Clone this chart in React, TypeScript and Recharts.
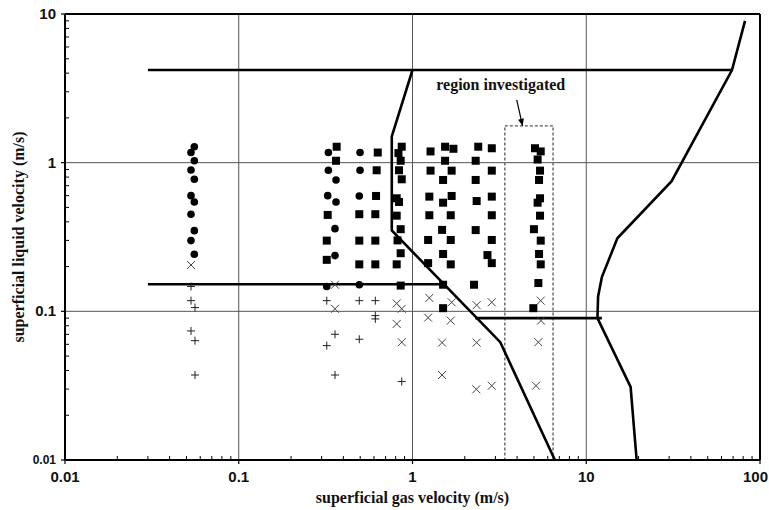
import { ScatterChart, Scatter, XAxis, YAxis, ReferenceLine, ReferenceArea } from 'recharts'

// axis decades and minor log steps
const xDecades = [0.01, 0.1, 1, 10, 100]
const yDecades = [0.01, 0.1, 1, 10]
const minorSteps = [2, 3, 4, 5, 6, 7, 8, 9]
const xGrid = [0.1, 1, 10]
const yGrid = [0.1, 1]

const xTitle = 'superficial gas velocity (m/s)'
const yTitle = 'superficial liquid velocity (m/s)'
const regionLabel = 'region investigated'

type Pt = { x: number; y: number; head?: boolean }

// filled circles
const circles: Pt[] = [
  { x: 0.0555, y: 1.28 }, { x: 0.0531, y: 1.17 }, { x: 0.0555, y: 1.03 }, { x: 0.0531, y: 0.893 },
  { x: 0.0555, y: 0.773 }, { x: 0.0531, y: 0.6 }, { x: 0.0555, y: 0.544 }, { x: 0.0531, y: 0.45 },
  { x: 0.0555, y: 0.349 }, { x: 0.0531, y: 0.299 }, { x: 0.0555, y: 0.242 },
  { x: 0.328, y: 1.17 }, { x: 0.328, y: 0.889 }, { x: 0.363, y: 0.765 }, { x: 0.325, y: 0.6 },
  { x: 0.363, y: 0.544 }, { x: 0.358, y: 0.36 }, { x: 0.358, y: 0.237 }, { x: 0.321, y: 0.147 },
  { x: 0.499, y: 1.17 }, { x: 0.499, y: 0.889 }, { x: 0.494, y: 0.597 }, { x: 0.494, y: 0.151 },
]

// filled squares
const squares: Pt[] = [
  { x: 0.366, y: 1.28 }, { x: 0.363, y: 1.03 }, { x: 0.325, y: 0.445 }, { x: 0.321, y: 0.299 }, { x: 0.321, y: 0.222 },
  { x: 0.631, y: 1.17 }, { x: 0.622, y: 0.889 }, { x: 0.617, y: 0.597 }, { x: 0.494, y: 0.45 }, { x: 0.611, y: 0.45 },
  { x: 0.494, y: 0.299 }, { x: 0.611, y: 0.299 }, { x: 0.494, y: 0.207 }, { x: 0.611, y: 0.207 },
  { x: 0.867, y: 1.28 }, { x: 0.83, y: 1.16 }, { x: 0.855, y: 1.03 }, { x: 0.836, y: 0.889 }, { x: 0.867, y: 0.773 },
  { x: 0.811, y: 0.576 }, { x: 0.836, y: 0.544 }, { x: 0.811, y: 0.44 }, { x: 0.855, y: 0.357 }, { x: 0.82, y: 0.3 },
  { x: 0.855, y: 0.246 }, { x: 0.811, y: 0.207 }, { x: 0.855, y: 0.149 },
  { x: 1.27, y: 1.19 }, { x: 1.54, y: 1.28 }, { x: 1.72, y: 1.24 }, { x: 1.54, y: 1.03 }, { x: 1.27, y: 0.884 },
  { x: 1.68, y: 0.884 }, { x: 1.5, y: 0.765 }, { x: 1.25, y: 0.591 }, { x: 1.68, y: 0.597 }, { x: 1.5, y: 0.538 },
  { x: 1.25, y: 0.443 }, { x: 1.66, y: 0.443 }, { x: 1.48, y: 0.353 }, { x: 1.23, y: 0.302 }, { x: 1.66, y: 0.302 },
  { x: 1.5, y: 0.243 }, { x: 1.23, y: 0.211 }, { x: 1.66, y: 0.207 }, { x: 1.5, y: 0.151 }, { x: 1.5, y: 0.105 },
  { x: 2.39, y: 1.28 }, { x: 2.86, y: 1.25 }, { x: 2.31, y: 1.03 }, { x: 2.86, y: 0.884 }, { x: 2.31, y: 0.765 },
  { x: 2.86, y: 0.591 }, { x: 2.34, y: 0.552 }, { x: 2.86, y: 0.443 }, { x: 2.31, y: 0.352 }, { x: 2.86, y: 0.302 },
  { x: 2.7, y: 0.239 }, { x: 2.86, y: 0.211 }, { x: 2.26, y: 0.151 },
  { x: 5.07, y: 1.25 }, { x: 5.47, y: 1.19 }, { x: 5.25, y: 1.05 }, { x: 5.42, y: 0.884 }, { x: 5.35, y: 0.765 },
  { x: 5.42, y: 0.576 }, { x: 5.25, y: 0.538 }, { x: 5.42, y: 0.44 }, { x: 5.0, y: 0.357 }, { x: 5.47, y: 0.299 },
  { x: 5.35, y: 0.243 }, { x: 5.47, y: 0.207 }, { x: 5.3, y: 0.155 }, { x: 4.96, y: 0.105 },
]

// crosses (x)
const crosses: Pt[] = [
  { x: 0.0531, y: 0.205 }, { x: 0.358, y: 0.151 }, { x: 0.358, y: 0.104 },
  { x: 0.811, y: 0.113 }, { x: 0.867, y: 0.104 }, { x: 0.811, y: 0.0823 }, { x: 0.867, y: 0.062 },
  { x: 1.25, y: 0.123 }, { x: 1.68, y: 0.115 }, { x: 1.23, y: 0.0907 }, { x: 1.66, y: 0.0866 },
  { x: 1.48, y: 0.0616 }, { x: 1.48, y: 0.0373 },
  { x: 2.34, y: 0.11 }, { x: 2.86, y: 0.115 }, { x: 2.34, y: 0.0616 }, { x: 2.33, y: 0.0299 }, { x: 2.86, y: 0.0316 },
  { x: 5.47, y: 0.118 }, { x: 5.49, y: 0.0866 }, { x: 5.3, y: 0.062 }, { x: 5.14, y: 0.0316 },
]

// plus signs
const pluses: Pt[] = [
  { x: 0.0531, y: 0.147 }, { x: 0.0531, y: 0.118 }, { x: 0.056, y: 0.106 }, { x: 0.0531, y: 0.0738 },
  { x: 0.056, y: 0.0635 }, { x: 0.056, y: 0.0373 },
  { x: 0.321, y: 0.118 }, { x: 0.358, y: 0.0701 }, { x: 0.321, y: 0.0588 }, { x: 0.358, y: 0.0373 },
  { x: 0.494, y: 0.118 }, { x: 0.611, y: 0.118 }, { x: 0.611, y: 0.0936 }, { x: 0.611, y: 0.0889 }, { x: 0.494, y: 0.0649 },
  { x: 0.867, y: 0.0337 },
]

// flow regime boundaries
const topLine: Pt[] = [{ x: 0.03, y: 4.2 }, { x: 69, y: 4.2 }]
const midLine: Pt[] = [{ x: 0.03, y: 0.152 }, { x: 1.5, y: 0.152 }]
const lowLine: Pt[] = [{ x: 2.3, y: 0.09 }, { x: 12.3, y: 0.09 }]
const leftBoundary: Pt[] = [
  { x: 1.0, y: 4.2 }, { x: 0.76, y: 1.5 }, { x: 0.76, y: 0.35 }, { x: 3.2, y: 0.062 }, { x: 6.6, y: 0.01 },
]
const rightBoundary: Pt[] = [
  { x: 82, y: 9.0 }, { x: 69, y: 4.2 }, { x: 31, y: 0.75 }, { x: 15.1, y: 0.31 }, { x: 12.3, y: 0.17 },
  { x: 11.7, y: 0.126 }, { x: 11.6, y: 0.09 }, { x: 18, y: 0.031 }, { x: 19.5, y: 0.01 },
]

// dashed box, its label and arrow
const regionX = [3.4, 6.44]
const regionY = [0.01, 1.77]
const labelPos: Pt[] = [{ x: 3.22, y: 3.08 }]
const arrow: Pt[] = [{ x: 3.98, y: 2.64 }, { x: 4.3, y: 1.77, head: true }]

const xTicks = xDecades.flatMap((d, i) => (i < xDecades.length - 1 ? [d, ...minorSteps.map((m) => d * m)] : [d]))
const yTicks = yDecades.flatMap((d, i) => (i < yDecades.length - 1 ? [d, ...minorSteps.map((m) => d * m)] : [d]))

const sans = '"Liberation Sans", Arial, sans-serif'
const serif = '"Liberation Serif", "Times New Roman", serif'

function XTick({ x, y, payload }: any) {
  const major = xDecades.includes(payload.value)
  if (!major) return <line x1={x} x2={x} y1={y} y2={y - 4} stroke="#000" strokeWidth={1} />
  // last label sits at the right edge of the picture
  const last = payload.value === xDecades[xDecades.length - 1]
  return (
    <g>
      <line x1={x} x2={x} y1={y} y2={y + 4} stroke="#000" strokeWidth={1.2} />
      <text
        x={last ? x + 8 : x}
        y={y + 22}
        textAnchor={last ? 'end' : 'middle'}
        fontFamily={sans}
        fontWeight="bold"
        fontSize={15}
        fill="#111"
      >
        {String(payload.value)}
      </text>
    </g>
  )
}

function YTick({ x, y, payload }: any) {
  const major = yDecades.includes(payload.value)
  if (!major) return <line x1={x} x2={x + 4} y1={y} y2={y} stroke="#000" strokeWidth={1} />
  const small = payload.value === yDecades[0]
  return (
    <g>
      <line x1={x - 4} x2={x} y1={y} y2={y} stroke="#000" strokeWidth={1.2} />
      <text x={x - 9} y={y + (small ? 4 : 5)} textAnchor="end" fontFamily={sans} fontWeight="bold" fontSize={small ? 12 : 15} fill="#111">
        {String(payload.value)}
      </text>
    </g>
  )
}

function XTitle({ viewBox }: any) {
  return (
    <text x={viewBox.x + viewBox.width / 2} y={viewBox.y + 43} textAnchor="middle" fontFamily={serif} fontWeight="bold" fontSize={16} fill="#111">
      {xTitle}
    </text>
  )
}

function YTitle({ viewBox }: any) {
  const cx = viewBox.x + 24
  const cy = viewBox.y + viewBox.height / 2
  return (
    <text x={cx} y={cy} transform={`rotate(-90 ${cx} ${cy})`} textAnchor="middle" fontFamily={serif} fontWeight="bold" fontSize={16} fill="#111">
      {yTitle}
    </text>
  )
}

const none = () => <g />
const dot = ({ cx, cy }: any) => <circle cx={cx} cy={cy} r={3.8} fill="#000" />
const square = ({ cx, cy }: any) => <rect x={cx - 4} y={cy - 4} width={8} height={8} fill="#000" />
const cross = ({ cx, cy }: any) => (
  <path d={`M${cx - 4},${cy - 4}L${cx + 4},${cy + 4}M${cx - 4},${cy + 4}L${cx + 4},${cy - 4}`} stroke="#444" strokeWidth={1} />
)
const plus = ({ cx, cy }: any) => (
  <path d={`M${cx - 4},${cy}H${cx + 4}M${cx},${cy - 4}V${cy + 4}`} stroke="#222" strokeWidth={1} />
)
const labelShape = ({ cx, cy }: any) => (
  <text x={cx} y={cy} textAnchor="middle" fontFamily={serif} fontWeight="bold" fontSize={16} fill="#111">
    {regionLabel}
  </text>
)
const arrowHead = ({ cx, cy, payload }: any) => {
  if (!payload?.head) return <g />
  return <path d={`M${cx},${cy}L${cx - 4.5},${cy - 6.1}L${cx + 1.3},${cy - 7.5}Z`} fill="#000" />
}

const boundary = { stroke: '#000', strokeWidth: 2.6 }

export default function App() {
  return (
    <div style={{ position: 'absolute', left: 0, top: 0, width: 769, height: 510, background: '#fff' }}>
      <ScatterChart width={769} height={510} margin={{ top: 14, right: 9, bottom: 0, left: 0 }}>
        <XAxis
          type="number"
          dataKey="x"
          scale="log"
          domain={[0.01, 100]}
          allowDataOverflow
          ticks={xTicks}
          interval={0}
          height={50}
          tickSize={0}
          tickMargin={0}
          tickLine={false}
          axisLine={{ stroke: '#000', strokeWidth: 2 }}
          tick={<XTick />}
          label={{ content: <XTitle /> }}
        />
        <YAxis
          type="number"
          dataKey="y"
          scale="log"
          domain={[0.01, 10]}
          allowDataOverflow
          ticks={yTicks}
          interval={0}
          width={65}
          tickSize={0}
          tickMargin={0}
          tickLine={false}
          axisLine={{ stroke: '#000', strokeWidth: 2 }}
          tick={<YTick />}
          label={{ content: <YTitle /> }}
        />
        {xGrid.map((v) => (
          <ReferenceLine key={`gx${v}`} x={v} stroke="#555" strokeWidth={1} />
        ))}
        {yGrid.map((v) => (
          <ReferenceLine key={`gy${v}`} y={v} stroke="#555" strokeWidth={1} />
        ))}
        <ReferenceLine y={10} stroke="#000" strokeWidth={2} />
        <ReferenceLine x={100} stroke="#000" strokeWidth={2} />
        <ReferenceArea
          x1={regionX[0]}
          x2={regionX[1]}
          y1={regionY[0]}
          y2={regionY[1]}
          fill="none"
          fillOpacity={0}
          stroke="#555"
          strokeWidth={1.3}
          strokeDasharray="3 2"
        />
        <Scatter data={topLine} line={boundary} lineType="joint" shape={none} isAnimationActive={false} />
        <Scatter data={midLine} line={boundary} lineType="joint" shape={none} isAnimationActive={false} />
        <Scatter data={lowLine} line={boundary} lineType="joint" shape={none} isAnimationActive={false} />
        <Scatter data={leftBoundary} line={boundary} lineType="joint" shape={none} isAnimationActive={false} />
        <Scatter data={rightBoundary} line={boundary} lineType="joint" shape={none} isAnimationActive={false} />
        <Scatter data={arrow} line={{ stroke: '#000', strokeWidth: 1.2 }} lineType="joint" shape={arrowHead} isAnimationActive={false} />
        <Scatter data={labelPos} shape={labelShape} isAnimationActive={false} />
        <Scatter data={crosses} shape={cross} isAnimationActive={false} />
        <Scatter data={pluses} shape={plus} isAnimationActive={false} />
        <Scatter data={circles} shape={dot} isAnimationActive={false} />
        <Scatter data={squares} shape={square} isAnimationActive={false} />
      </ScatterChart>
    </div>
  )
}
